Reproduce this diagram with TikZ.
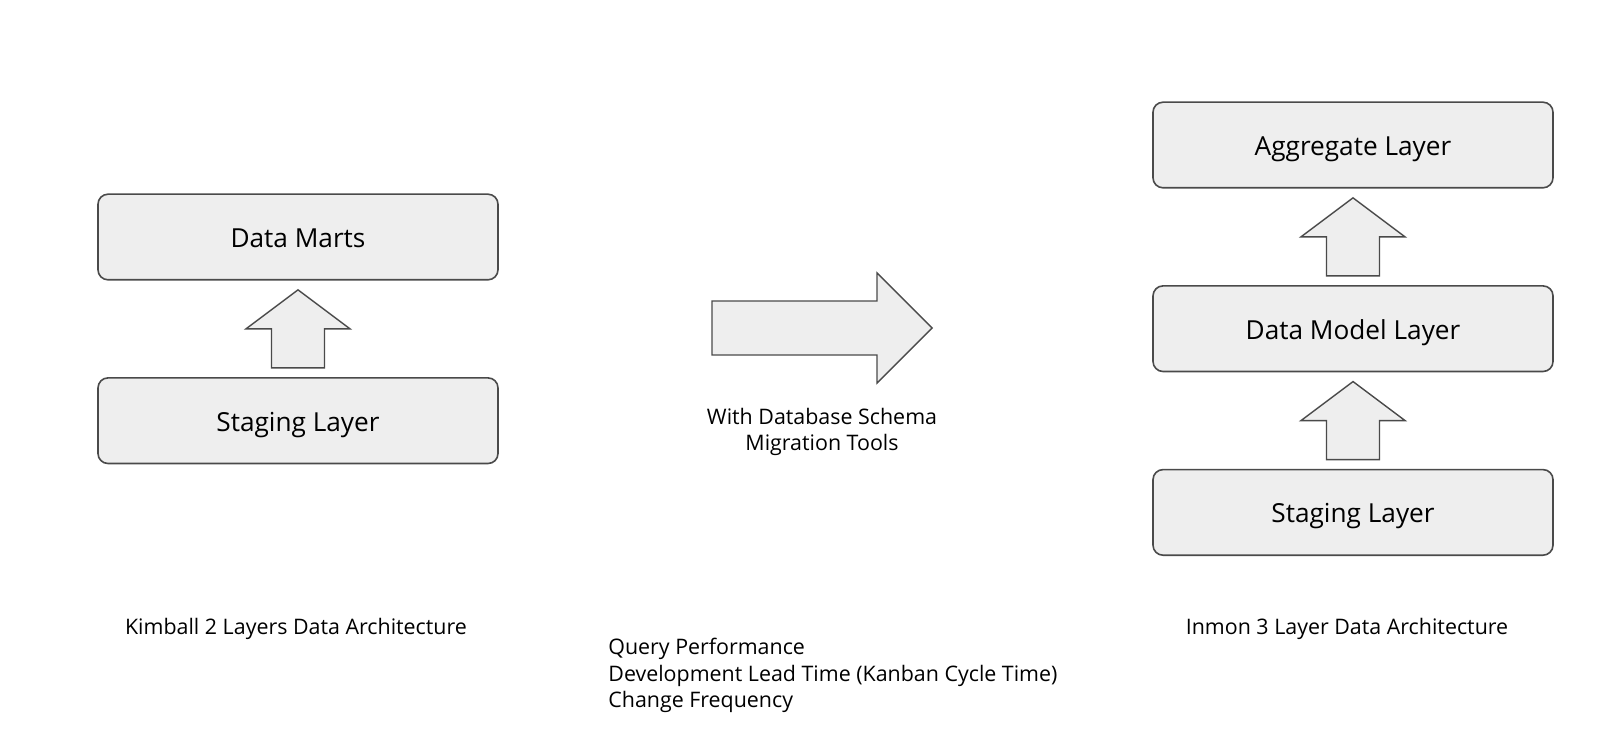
\documentclass[tikz,border=0pt]{standalone}
\usepackage{fontspec}
\setmainfont{Open Sans}
\usetikzlibrary{positioning,calc}

\definecolor{layerfill}{HTML}{EEEEEE}
\definecolor{layerline}{HTML}{4A4A4A}

\tikzset{
  layer/.style={draw=layerline, fill=layerfill, line width=0.8pt,
    rounded corners=5pt, minimum width=200pt, minimum height=42.8pt,
    inner sep=0pt, text height=12.5pt, text depth=2pt,
    font=\fontsize{13.1}{15}\selectfont},
  blockarrow/.style={draw=layerline, fill=layerfill, line width=0.7pt},
  caption/.style={inner sep=0pt, font=\fontsize{10.7}{13.3}\selectfont},
  pics/uparrow/.style={code={
    \draw[blockarrow] (-26.5,39) -- (-26.5,0) -- (-52,0) -- (0,-39)
      -- (52,0) -- (26.5,0) -- (26.5,39) -- cycle;}}
}

\begin{document}
\begin{tikzpicture}[x=0.5pt, y=-0.5pt]
  \useasboundingbox (0,0) rectangle (1600,754);

  % Kimball, two layers
  \node[layer] (marts) at (298,237) {Data Marts};
  \node[layer, below=48.25pt of marts] (stageK) {Staging Layer};
  \pic at ($(marts.south)!0.5!(stageK.north)$) {uparrow};
  \node[caption] (kimball) at (296,629) {Kimball 2 Layers Data Architecture};

  % Inmon, three layers
  \node[layer] (aggr) at (1353,145) {Aggregate Layer};
  \node[layer, below=48.25pt of aggr] (model) {Data Model Layer};
  \node[layer, below=48.25pt of model] (stageI) {Staging Layer};
  \pic at ($(aggr.south)!0.5!(model.north)$) {uparrow};
  \pic at ($(model.south)!0.5!(stageI.north)$) {uparrow};
  \node[caption] (inmon) at (1347,629) {Inmon 3 Layer Data Architecture};

  % migration arrow in the middle
  \draw[blockarrow] (712,301) -- (877,301) -- (877,273) -- (932,328)
    -- (877,383) -- (877,355) -- (712,355) -- cycle;
  \node[caption, align=center] (tools) at (822,432)
    {With Database Schema\\Migration Tools};

  % metrics
  \node[caption, align=left, anchor=north west] (metrics) at (608,638)
    {Query Performance\\Development Lead Time (Kanban Cycle Time)\\Change Frequency};
\end{tikzpicture}
\end{document}
